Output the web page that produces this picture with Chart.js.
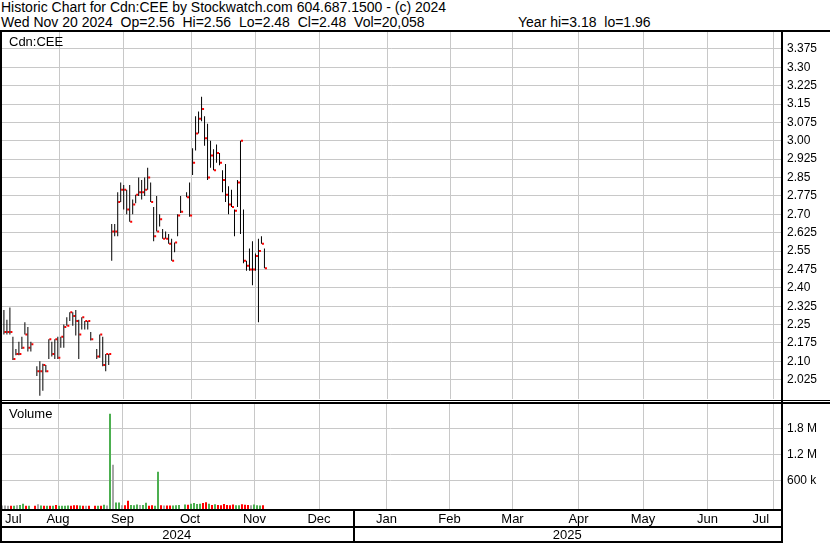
<!DOCTYPE html>
<html>
<head>
<meta charset="utf-8">
<script src="https://cdn.jsdelivr.net/npm/chart.js@4.4.1/dist/chart.umd.min.js"></script>
<style>
  html, body { margin: 0; padding: 0; background: #fff; }
  #wrap { position: relative; width: 830px; height: 543px; overflow: hidden; font-family: Arial, "Liberation Sans", sans-serif; }
  .hdr { position: absolute; left: 1px; font-size: 14px; line-height: 15px; white-space: pre; color: #000; }
  canvas { position: absolute; left: 0; }
</style>
</head>
<body>
<div id="wrap">
  <div class="hdr" style="top:0">Historic Chart for Cdn:CEE by Stockwatch.com 604.687.1500 - (c) 2024</div>
  <div class="hdr" style="top:15px">Wed Nov 20 2024  Op=2.56  Hi=2.56  Lo=2.48  Cl=2.48  Vol=20,058</div>
  <div class="hdr" style="top:15px; left:518px">Year hi=3.18  lo=1.96</div>
  <canvas id="priceChart" width="830" height="370" style="top:30px"></canvas>
  <canvas id="volumeChart" width="830" height="143" style="top:400px"></canvas>
</div>
<script>
// one slot per weekday starting Mon Jul 22 2024, null = market holiday
const highs = [
  2.31, 2.27, 2.32, 2.20, 2.15, 2.18, 2.20, 2.26, 2.24, 2.18,
  null, 2.08, 2.10, 2.09, 2.085, 2.19, 2.18, 2.19, 2.20, 2.20,
  2.25, 2.28, 2.30, 2.30, 2.31, 2.27, 2.28, 2.265, 2.265, 2.22,
  null, 2.15, 2.21, 2.20, 2.13, 2.13, 2.66, 2.66, 2.79, 2.83,
  2.82, 2.80, 2.82, 2.76, 2.78, 2.85, 2.84, 2.85, 2.89, 2.83,
  2.73, 2.775, 2.70, 2.64, 2.63, 2.62, 2.60, 2.585, 2.70, 2.775,
  null, 2.79, 2.83, 2.97, 3.10, 3.12, 3.18, 3.10, 3.07, 3.00,
  2.965, 2.985, 2.95, 2.88, 2.905, 2.815, 2.80, 2.72, 2.84, 3.00,
  2.72, 2.51, 2.56, 2.59, 2.54, 2.60, 2.61, 2.56
];
const lows = [
  2.21, 2.21, 2.21, 2.105, 2.125, 2.125, 2.15, 2.21, 2.14, 2.14,
  null, 2.04, 1.96, 1.98, 2.055, 2.11, 2.12, 2.11, 2.11, 2.155,
  2.155, 2.245, 2.265, 2.245, 2.205, 2.11, 2.23, 2.23, 2.23, 2.185,
  null, 2.11, 2.115, 2.08, 2.06, 2.085, 2.51, 2.61, 2.61, 2.75,
  2.72, 2.70, 2.67, 2.70, 2.745, 2.775, 2.76, 2.775, 2.80, 2.75,
  2.59, 2.63, 2.65, 2.60, 2.60, 2.58, 2.51, 2.545, 2.61, 2.705,
  null, 2.77, 2.69, 2.86, 2.96, 3.03, 3.08, 2.98, 2.84, 2.89,
  2.88, 2.91, 2.90, 2.79, 2.75, 2.70, 2.73, 2.61, 2.73, 2.62,
  2.50, 2.47, 2.47, 2.41, 2.47, 2.26, 2.58, 2.48
];
const closes = [
  2.22, 2.22, 2.22, 2.11, 2.13, 2.13, 2.155, 2.21, 2.155, 2.17,
  null, 2.06, 2.06, 2.085, 2.06, 2.19, 2.13, 2.19, 2.115, 2.20,
  2.24, 2.245, 2.30, 2.285, 2.265, 2.21, 2.28, 2.265, 2.265, 2.19,
  null, 2.12, 2.21, 2.085, 2.13, 2.13, 2.63, 2.63, 2.75, 2.80,
  2.80, 2.72, 2.67, 2.74, 2.78, 2.79, 2.79, 2.80, 2.85, 2.75,
  2.61, 2.63, 2.68, 2.60, 2.60, 2.58, 2.51, 2.585, 2.695, 2.71,
  null, 2.77, 2.695, 2.91, 3.03, 3.09, 3.13, 3.01, 2.85, 2.94,
  2.88, 2.95, 2.91, 2.84, 2.78, 2.74, 2.73, 2.715, 2.83, 3.00,
  2.51, 2.49, 2.475, 2.475, 2.53, 2.55, 2.58, 2.48
];
const volumes = [
  10000, 10000, 8000, 5000, 8000, 15000, 25000, 55000, 8000, 8000,
  null, 8000, 40000, 12000, 8000, 6000, 6000, 8000, 25000, 6000,
  6000, 8000, 12000, 8000, 15000, 15000, 12000, 6000, 6000, 5000,
  null, 6000, 6000, 6000, 30000, 12000, 2150000, 960000, 80000, 80000,
  15000, 20000, 125000, 25000, 15000, 35000, 25000, 25000, 75000, 8000,
  15000, 8000, 800000, 15000, 10000, 10000, 12000, 10000, 15000, 25000,
  null, 35000, 30000, 55000, 70000, 45000, 55000, 70000, 90000, 50000,
  25000, 40000, 25000, 20000, 45000, 25000, 20000, 35000, 20000, 15000,
  40000, 30000, 25000, 15000, 35000, 20000, 12000, 20058
];

const priceTicks = [2.025, 2.10, 2.175, 2.25, 2.325, 2.40, 2.475, 2.55, 2.625, 2.70,
  2.775, 2.85, 2.925, 3.00, 3.075, 3.15, 3.225, 3.30, 3.375];
const priceTickLabels = ['2.025', '2.10', '2.175', '2.25', '2.325', '2.40', '2.475', '2.55', '2.625', '2.70',
  '2.775', '2.85', '2.925', '3.00', '3.075', '3.15', '3.225', '3.30', '3.375'];
const volumeTicks = [600000, 1200000, 1800000];
const volumeTickLabels = ['600 k', '1.2 M', '1.8 M'];

// weekday slot where each month begins, and the labels between them
const monthStarts = [8, 29, 51, 74, 94, 117, 139, 159, 181, 203, 224, 246];
const monthNames = ['Jul', 'Aug', 'Sep', 'Oct', 'Nov', 'Dec', 'Jan', 'Feb', 'Mar', 'Apr', 'May', 'Jun', 'Jul'];
const yearStarts = [117];
const yearNames = ['2024', '2025'];

const xMin = -5 / 6, xMax = 259.5;
const priceMin = 1.948, priceMax = 3.444;
const volMin = -70000, volMax = 2400000;

const gridColor = '#c8c8c8';
const upColor = '#4caf50', downColor = '#ff0000', flatColor = '#a6a6a6';
const FONT = 'Arial, "Liberation Sans", sans-serif';

Chart.defaults.font.family = FONT;

// price bars
const rangeData = [], closeData = [], volData = [], volColors = [];
let prevClose = null;
highs.forEach((h, i) => {
  if (h == null) return;
  rangeData.push({ x: i, y: [lows[i], h] });
  closeData.push({ x: i + 0.5, y: closes[i] });
  volData.push({ x: i - 1 / 6, y: volumes[i] });
  let c = flatColor;
  if (prevClose != null && closes[i] > prevClose) c = upColor;
  if (prevClose != null && closes[i] < prevClose) c = downColor;
  volColors.push(c);
  prevClose = closes[i];
});

function xScaleOpts() {
  return {
    type: 'linear', min: xMin, max: xMax, offset: false,
    afterBuildTicks: s => { s.ticks = monthStarts.map(v => ({ value: v })); },
    afterFit: s => { s.height = 0; s.paddingLeft = 0; s.paddingRight = 0; },
    ticks: { display: false },
    border: { display: false },
    grid: { color: gridColor, drawTicks: false }
  };
}

const pricePlugin = {
  id: 'priceFrame',
  afterDraw(chart) {
    const ctx = chart.ctx;
    ctx.save();
    ctx.fillStyle = '#000';
    ctx.fillRect(0, 0, 830, 2);
    ctx.fillRect(0, 0, 2, 370);
    ctx.fillRect(781, 0, 2, 370);
    ctx.font = '13px ' + FONT;
    ctx.textBaseline = 'alphabetic';
    ctx.textAlign = 'left';
    ctx.fillText('Cdn:CEE', 9, 16);
    ctx.restore();
  }
};

new Chart(document.getElementById('priceChart'), {
  type: 'bar',
  data: {
    datasets: [
      { type: 'bar', data: rangeData, backgroundColor: '#000', barThickness: 1, grouped: false, inflateAmount: 0 },
      { type: 'scatter', data: closeData, pointStyle: 'rect', pointRadius: 1.42, pointHoverRadius: 1.42,
        backgroundColor: '#ff0000', borderWidth: 0 }
    ]
  },
  options: {
    responsive: false, animation: false, devicePixelRatio: 1,
    layout: { padding: { top: 2, left: 0, right: 0, bottom: 0 } },
    plugins: { legend: { display: false }, tooltip: { enabled: false } },
    scales: {
      x: xScaleOpts(),
      y: {
        position: 'right', min: priceMin, max: priceMax,
        afterBuildTicks: s => { s.ticks = priceTicks.map(v => ({ value: v })); },
        afterFit: s => { s.width = 49; s.paddingTop = 0; s.paddingBottom = 0; },
        ticks: { callback: (v, i) => priceTickLabels[i], padding: 6, color: '#000', font: { size: 12 } },
        border: { display: false },
        grid: { color: gridColor, drawTicks: false }
      }
    }
  },
  plugins: [pricePlugin]
});

const volumePlugin = {
  id: 'volumeFrame',
  afterDraw(chart) {
    const ctx = chart.ctx;
    const xs = chart.scales.x;
    ctx.save();
    ctx.fillStyle = '#000';
    ctx.fillRect(0, 0, 830, 1);
    ctx.fillRect(0, 2, 830, 2);
    ctx.fillRect(0, 0, 2, 143);
    ctx.fillRect(781, 0, 2, 143);
    ctx.fillRect(0, 109, 783, 2);
    ctx.fillRect(0, 126, 783, 2);
    ctx.fillRect(0, 141, 783, 2);
    yearStarts.forEach(v => {
      ctx.fillRect(Math.floor(xs.getPixelForValue(v)), 109, 2, 34);
    });

    ctx.font = '13px ' + FONT;
    ctx.textBaseline = 'alphabetic';
    ctx.textAlign = 'left';
    ctx.fillText('Volume', 9, 17.5);

    ctx.textAlign = 'center';
    const mEdges = [xMin, ...monthStarts, xMax].map(v => xs.getPixelForValue(v));
    monthNames.forEach((m, i) => {
      ctx.fillText(m, (mEdges[i] + mEdges[i + 1]) / 2, 123);
    });
    const yEdges = [xMin, ...yearStarts, xMax].map(v => xs.getPixelForValue(v));
    yearNames.forEach((y, i) => {
      ctx.fillText(y, (yEdges[i] + yEdges[i + 1]) / 2, 139);
    });
    ctx.restore();
  }
};

new Chart(document.getElementById('volumeChart'), {
  type: 'bar',
  data: {
    datasets: [
      { data: volData, backgroundColor: volColors, barThickness: 2, grouped: false,
        inflateAmount: 0, base: volMin }
    ]
  },
  options: {
    responsive: false, animation: false, devicePixelRatio: 1,
    layout: { padding: { top: 3, left: 0, right: 0, bottom: 34 } },
    plugins: { legend: { display: false }, tooltip: { enabled: false } },
    scales: {
      x: xScaleOpts(),
      y: {
        position: 'right', min: volMin, max: volMax,
        afterBuildTicks: s => { s.ticks = volumeTicks.map(v => ({ value: v })); },
        afterFit: s => { s.width = 49; s.paddingTop = 0; s.paddingBottom = 0; },
        ticks: { callback: (v, i) => volumeTickLabels[i], padding: 6, color: '#000', font: { size: 12 } },
        border: { display: false },
        grid: { color: gridColor, drawTicks: false }
      }
    }
  },
  plugins: [volumePlugin]
});
</script>
</body>
</html>
